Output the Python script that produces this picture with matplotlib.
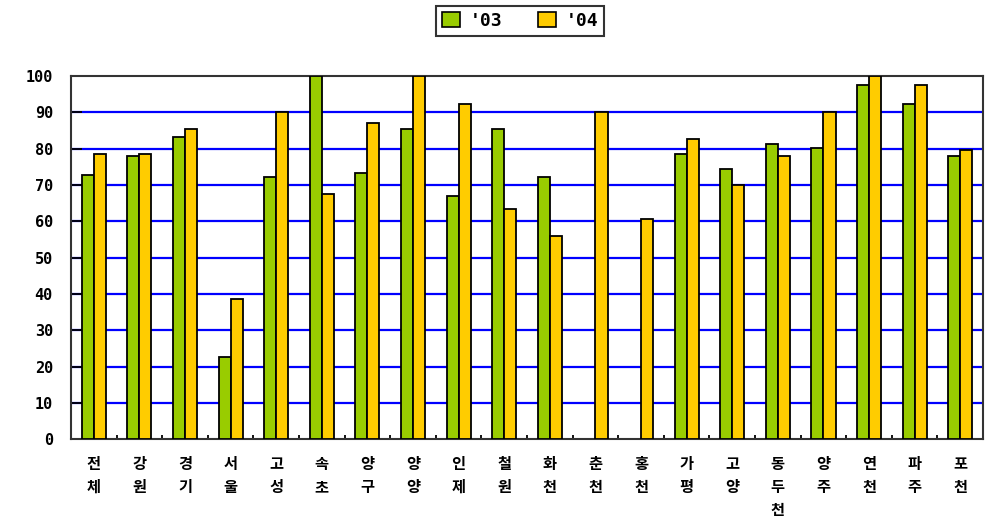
import matplotlib
matplotlib.use("Agg")
import matplotlib.pyplot as plt
from matplotlib.patches import Patch
import numpy as np

regions = ["전체", "강원", "경기", "서울", "고성", "속초", "양구", "양양", "인제", "철원",
           "화천", "춘천", "홍천", "가평", "고양", "동두천", "양주", "연천", "파주", "포천"]
y2003 = [72.8, 77.9, 83.2, 22.6, 72.3, 100.0, 73.3, 85.3, 67.0, 85.3,
         72.2, 0.0, 0.0, 78.5, 74.5, 81.3, 80.2, 97.5, 92.4, 77.9]
y2004 = [78.5, 78.5, 85.4, 38.6, 90.0, 67.6, 87.2, 100.0, 92.4, 63.5,
         56.0, 90.0, 60.6, 82.6, 69.9, 77.9, 90.0, 100.0, 97.5, 79.7]
series_labels = ["'03", "'04"]
yticks = list(range(0, 101, 10))

green = "#99CC00"
yellow = "#FFCC00"

fig = plt.figure(figsize=(9.86, 5.21), dpi=100)
ax = fig.add_axes([0.072, 0.157, 0.925, 0.697])

x = np.arange(len(regions))
w = 0.265
g = [v if v > 0 else np.nan for v in y2003]
ax.bar(x - w / 2, g, width=w, color=green, edgecolor="black", linewidth=1.3, zorder=3)
ax.bar(x + w / 2, y2004, width=w, color=yellow, edgecolor="black", linewidth=1.3, zorder=3)

ax.set_xlim(-0.5, len(regions) - 0.5)
ax.set_ylim(0, 100)

# horizontal blue grid
for t in yticks[1:-1]:
    ax.axhline(t, color="#0000FF", linewidth=1.6, zorder=1)

ax.set_yticks(yticks)
ax.set_yticklabels([str(t) for t in yticks], fontfamily="DejaVu Sans Mono",
                   fontweight="bold", fontsize=11)
ax.tick_params(axis="y", direction="in", length=8, width=1.3, color="black", pad=13)

ax.set_xticks(x)
ax.set_xticklabels(["\n".join(r) for r in regions], fontfamily="Noto Sans CJK KR",
                   fontweight="bold", fontsize=11, linespacing=1.55, va="top")
ax.tick_params(axis="x", length=0, pad=12)
ax.set_xticks(np.arange(-0.5, len(regions), 1.0)[1:-1], minor=True)
ax.tick_params(axis="x", which="minor", direction="in", length=3, width=1.3, color="black")

for s in ax.spines.values():
    s.set_color("#333333")
    s.set_linewidth(1.5)

handles = [Patch(facecolor=green, edgecolor="black", linewidth=1.2),
           Patch(facecolor=yellow, edgecolor="black", linewidth=1.2)]
leg = fig.legend(handles, series_labels, loc="center", bbox_to_anchor=(0.5275, 0.96),
                 ncol=2, frameon=True, fancybox=False, edgecolor="black",
                 prop={"family": "DejaVu Sans Mono", "weight": "bold", "size": 13},
                 handlelength=1.0, handleheight=0.9, handletextpad=0.5,
                 columnspacing=2.0, borderpad=0.35, borderaxespad=0.0)
leg.get_frame().set_linewidth(1.5)

fig.savefig("out.png", dpi=100)
